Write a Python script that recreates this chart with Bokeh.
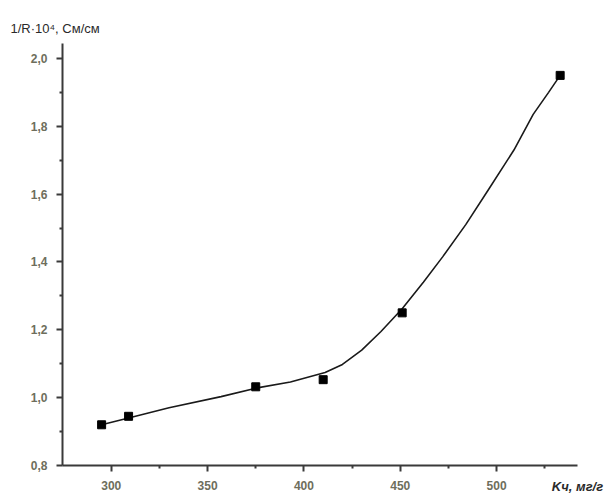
from bokeh.plotting import figure
from bokeh.models import Range1d, FixedTicker, CustomJSTickFormatter
from bokeh.embed import file_html
from bokeh.resources import INLINE

# data
k_values = [295, 309, 375, 410, 451, 533]
conductivity = [0.92, 0.945, 1.032, 1.053, 1.25, 1.95]

curve_k = [295, 309, 330, 357, 375, 393, 411, 420, 430, 440, 451, 462, 472, 484, 496, 509, 519, 527, 533]
curve_c = [0.92, 0.94, 0.97, 1.003, 1.028, 1.046, 1.074, 1.098, 1.14, 1.195, 1.262, 1.34, 1.415, 1.51, 1.615, 1.73, 1.835, 1.90, 1.95]

x_major = [300, 350, 400, 450, 500]
x_minor = [325, 375, 425, 475, 525]
y_major = [0.8, 1.0, 1.2, 1.4, 1.6, 1.8, 2.0]
y_minor = [0.9, 1.1, 1.3, 1.5, 1.7, 1.9]

y_label = "1/R·10⁴, См/см"
x_label = "Kч, мг/г"

W, H = 616, 504
FL, FB, FR = 62, 465, 577  # frame left / bottom / right in canvas pixels
X0, X1 = 274.7, 542.0
Y0, Y1 = 0.8, 2.044

p = figure(width=W, height=H, output_backend="svg", toolbar_location=None,
           x_range=Range1d(X0, X1), y_range=Range1d(Y0, Y1),
           min_border_left=FL, min_border_right=W - FR, min_border_top=43, min_border_bottom=H - FB)
p.xgrid.visible = False
p.ygrid.visible = False
p.outline_line_color = None
p.background_fill_color = "white"
p.border_fill_color = "white"

p.title.text = y_label
p.title.align = "left"
p.title.offset = 10 - FL
p.title.standoff = 15
p.title.text_font = "Liberation Sans"
p.title.text_font_size = "13px"
p.title.text_font_style = "normal"
p.title.text_color = "#2a2a2a"

axis_col = "#3a3a3a"
label_col = "#6e6e5c"
for ax in (p.xaxis[0], p.yaxis[0]):
    ax.axis_line_width = 2
    ax.axis_line_color = axis_col
    ax.major_tick_line_color = axis_col
    ax.minor_tick_line_color = axis_col
    ax.major_tick_line_width = 2
    ax.minor_tick_line_width = 2
    ax.major_tick_in = 0
    ax.major_tick_out = 6
    ax.minor_tick_in = 0
    ax.minor_tick_out = 3
    ax.major_label_text_font = "Liberation Sans"
    ax.major_label_text_font_size = "12px"
    ax.major_label_text_font_style = "bold"
    ax.major_label_text_color = label_col

p.xaxis[0].ticker = FixedTicker(ticks=x_major, minor_ticks=x_minor)
p.yaxis[0].ticker = FixedTicker(ticks=y_major, minor_ticks=y_minor)
p.xaxis[0].formatter = CustomJSTickFormatter(code="return tick.toFixed(0);")
p.yaxis[0].formatter = CustomJSTickFormatter(code="return tick.toFixed(1).replace('.', ',');")
p.xaxis[0].major_label_standoff = 9
p.yaxis[0].major_label_standoff = 9

xa = p.xaxis[0]
xa.axis_label = x_label
xa.axis_label_align = "end"
xa.axis_label_standoff = -14
xa.axis_label_text_font = "Liberation Sans"
xa.axis_label_text_font_size = "13px"
xa.axis_label_text_font_style = "bold italic"
xa.axis_label_text_color = "#2a2a2a"

p.line(curve_k, curve_c, line_color="#1a1a1a", line_width=1.6)
p.scatter(k_values, conductivity, marker="square", size=8, fill_color="black", line_color="black")

open("out.html", "w").write(file_html(p, INLINE))
